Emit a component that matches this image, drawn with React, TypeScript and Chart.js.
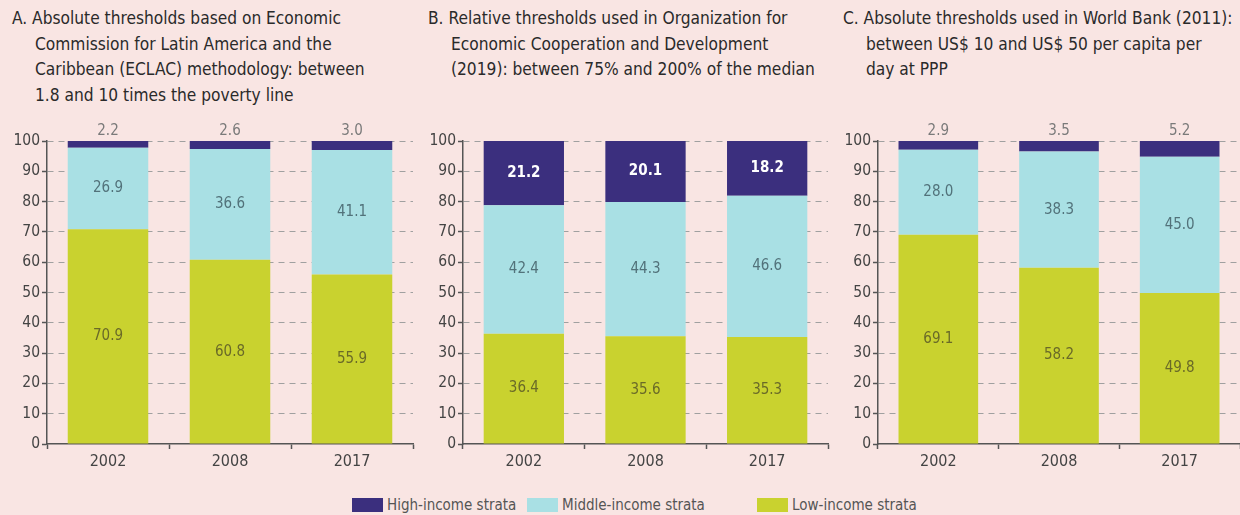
import React, { useEffect, useRef } from "react";
import { Chart, registerables } from "chart.js";

Chart.register(...registerables);

const categories = ["2002", "2008", "2017"];
const yTicks = [0, 10, 20, 30, 40, 50, 60, 70, 80, 90, 100];

const lowA = [70.9, 60.8, 55.9];
const midA = [26.9, 36.6, 41.1];
const highA = [2.2, 2.6, 3.0];

const lowB = [36.4, 35.6, 35.3];
const midB = [42.4, 44.3, 46.6];
const highB = [21.2, 20.1, 18.2];

const lowC = [69.1, 58.2, 49.8];
const midC = [28.0, 38.3, 45.0];
const highC = [2.9, 3.5, 5.2];

const titleA = [
  "A. Absolute thresholds based on Economic",
  "Commission for Latin America and the",
  "Caribbean (ECLAC) methodology: between",
  "1.8 and 10 times the poverty line",
];
const titleB = [
  "B. Relative thresholds used in Organization for",
  "Economic Cooperation and Development",
  "(2019): between 75% and 200% of the median",
];
const titleC = [
  "C. Absolute thresholds used in World Bank (2011):",
  "between US$ 10 and US$ 50 per capita per",
  "day at PPP",
];

const legendLabels = ["High-income strata", "Middle-income strata", "Low-income strata"];

const BG = "#f9e5e3";
const NAVY = "#3b2f7e";
const CYAN = "#a9e0e4";
const LIME = "#c9d22f";
const FONT = "'Liberation Sans Narrow', 'DejaVu Sans Condensed', 'Roboto Condensed', 'Liberation Sans', sans-serif";

const segLabels = {
  id: "segLabels",
  afterDatasetsDraw(chart: any, _args: any, opts: any) {
    const ctx = chart.ctx;
    chart.data.datasets.forEach((ds: any, di: number) => {
      const meta = chart.getDatasetMeta(di);
      const st = opts.styles[di];
      meta.data.forEach((bar: any, i: number) => {
        const v = ds.data[i];
        const p = bar.getProps(["x", "y", "base"], true);
        ctx.save();
        ctx.font = `${st.bold ? "bold " : ""}${st.size}px ${FONT}`;
        ctx.fillStyle = st.color;
        ctx.textAlign = "center";
        if (st.pos === "above") {
          ctx.textBaseline = "bottom";
          ctx.fillText(v.toFixed(1), p.x, p.y - 2);
        } else {
          ctx.textBaseline = "middle";
          ctx.fillText(v.toFixed(1), p.x, (p.y + p.base) / 2);
        }
        ctx.restore();
      });
    });
  },
};

function Panel({ low, mid, high, highInside, width, padRight }: any) {
  const ref = useRef<HTMLCanvasElement>(null);
  useEffect(() => {
    if (!ref.current) return;
    const chart = new Chart(ref.current, {
      type: "bar",
      data: {
        labels: categories,
        datasets: [
          { label: legendLabels[2], data: low, backgroundColor: LIME },
          { label: legendLabels[1], data: mid, backgroundColor: CYAN },
          { label: legendLabels[0], data: high, backgroundColor: NAVY },
        ],
      },
      plugins: [segLabels],
      options: {
        responsive: false,
        animation: false,
        events: [],
        layout: { padding: { top: 29, right: padRight, left: 0, bottom: 0 } },
        datasets: { bar: { categoryPercentage: 1, barPercentage: 0.66 } } as any,
        plugins: {
          legend: { display: false },
          tooltip: { enabled: false },
          segLabels: {
            styles: [
              { pos: "inside", color: "#6a6a28", size: 15, bold: false },
              { pos: "inside", color: "#52727a", size: 15, bold: false },
              highInside
                ? { pos: "inside", color: "#ffffff", size: 15, bold: true }
                : { pos: "above", color: "#7a7a7a", size: 15, bold: false },
            ],
          },
        } as any,
        scales: {
          x: {
            stacked: true,
            afterFit: (s: any) => { s.height = 38; },
            grid: { display: true, drawOnChartArea: false, offset: true, tickLength: 5, tickColor: "#555", tickWidth: 1.5 },
            border: { display: true, color: "#555", width: 1.5 },
            ticks: { color: "#444", font: { family: FONT, size: 16 }, padding: 3 },
          },
          y: {
            stacked: true,
            min: 0,
            max: 100,
            afterFit: (s: any) => { s.width = 47; },
            afterBuildTicks: (s: any) => { s.ticks = yTicks.map((v) => ({ value: v })); },
            grid: {
              color: (c: any) => (c.tick && c.tick.value === 0 ? "rgba(0,0,0,0)" : "#a0a0a0"),
              lineWidth: 1,
              tickLength: 5,
              tickColor: "#555",
              tickWidth: 1.5,
            },
            border: { display: true, color: "#555", width: 1.5, dash: [6, 5] },
            ticks: { color: "#444", font: { family: FONT, size: 15.5 }, padding: 2 },
          },
        },
      } as any,
    });
    return () => chart.destroy();
  }, []);
  return <canvas ref={ref} width={width} height={370} />;
}

function Title({ lines, left }: any) {
  return (
    <div style={{ position: "absolute", left, top: 6, fontFamily: FONT, fontSize: 17.2, color: "#2a2a2a", lineHeight: "25.5px", whiteSpace: "pre" }}>
      {lines.map((l: string, i: number) => (
        <div key={i} style={{ paddingLeft: i === 0 ? 0 : 23 }}>{l}</div>
      ))}
    </div>
  );
}

export default function App() {
  const colors = [NAVY, CYAN, LIME];
  const legendX = [352, 527, 757];
  return (
    <div style={{ position: "fixed", left: 0, top: 0, width: 1240, height: 515, background: BG, overflow: "hidden" }}>
      <Title lines={titleA} left={12} />
      <Title lines={titleB} left={428} />
      <Title lines={titleC} left={843} />
      <div style={{ position: "absolute", left: 0, top: 112 }}>
        <Panel low={lowA} mid={midA} high={highA} highInside={false} width={415} padRight={2} />
      </div>
      <div style={{ position: "absolute", left: 416, top: 112 }}>
        <Panel low={lowB} mid={midB} high={highB} highInside={true} width={414} padRight={2} />
      </div>
      <div style={{ position: "absolute", left: 831, top: 112 }}>
        <Panel low={lowC} mid={midC} high={highC} highInside={false} width={409} padRight={0} />
      </div>
      {legendLabels.map((l, i) => (
        <div key={l} style={{ position: "absolute", left: legendX[i], top: 496, display: "flex", alignItems: "center", fontFamily: FONT, fontSize: 15, color: "#555" }}>
          <span style={{ display: "inline-block", width: 31, height: 14, background: colors[i], marginRight: 4 }} />
          <span>{l}</span>
        </div>
      ))}
    </div>
  );
}
